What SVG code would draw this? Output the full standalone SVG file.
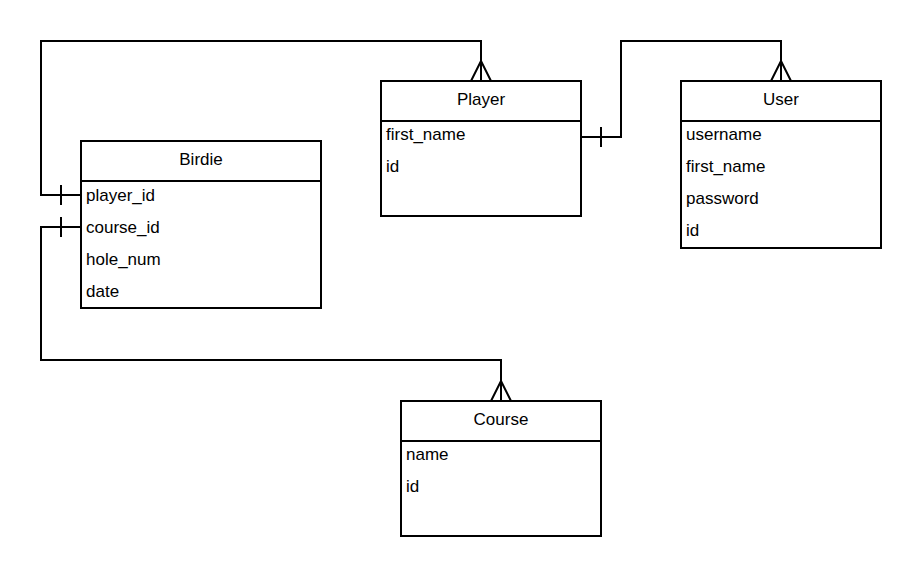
<svg xmlns="http://www.w3.org/2000/svg" width="921" height="577" viewBox="0 0 921 577">
<style>
.box{fill:#fff;stroke:#000;stroke-width:2}
.sep{stroke:#000;stroke-width:2}
.conn{fill:none;stroke:#000;stroke-width:2}
text{font-family:"Liberation Sans",Arial,sans-serif;font-size:17px;fill:#000}
.title{text-anchor:middle}
</style>
<rect width="921" height="577" fill="#fff"/>
<g id="connectors">
<path class="conn" d="M81,195 H41 V41 H481 V81"/>
<path class="conn" d="M61,185 V205"/>
<path class="conn" d="M471,81 L481,61 L491,81"/>
<path class="conn" d="M81,227 H41 V360 H501 V401"/>
<path class="conn" d="M61,217 V237"/>
<path class="conn" d="M491,401 L501,381 L511,401"/>
<path class="conn" d="M581,137 H621 V41 H781 V81"/>
<path class="conn" d="M601,127 V147"/>
<path class="conn" d="M771,81 L781,61 L791,81"/>
</g>
<g id="birdie">
<rect class="box" x="81" y="141" width="240" height="167"/>
<line class="sep" x1="81" y1="181" x2="321" y2="181"/>
<text class="title" x="201" y="165">Birdie</text>
<text x="86" y="201">player_id</text>
<text x="86" y="233">course_id</text>
<text x="86" y="265">hole_num</text>
<text x="86" y="297">date</text>
</g>
<g id="player">
<rect class="box" x="381" y="81" width="200" height="135"/>
<line class="sep" x1="381" y1="121" x2="581" y2="121"/>
<text class="title" x="481" y="105">Player</text>
<text x="386" y="140">first_name</text>
<text x="386" y="172">id</text>
</g>
<g id="user">
<rect class="box" x="681" y="81" width="200" height="167"/>
<line class="sep" x1="681" y1="121" x2="881" y2="121"/>
<text class="title" x="781" y="105">User</text>
<text x="686" y="140">username</text>
<text x="686" y="172">first_name</text>
<text x="686" y="204">password</text>
<text x="686" y="236">id</text>
</g>
<g id="course">
<rect class="box" x="401" y="401" width="200" height="135"/>
<line class="sep" x1="401" y1="441" x2="601" y2="441"/>
<text class="title" x="501" y="425">Course</text>
<text x="406" y="460">name</text>
<text x="406" y="492">id</text>
</g>
</svg>
